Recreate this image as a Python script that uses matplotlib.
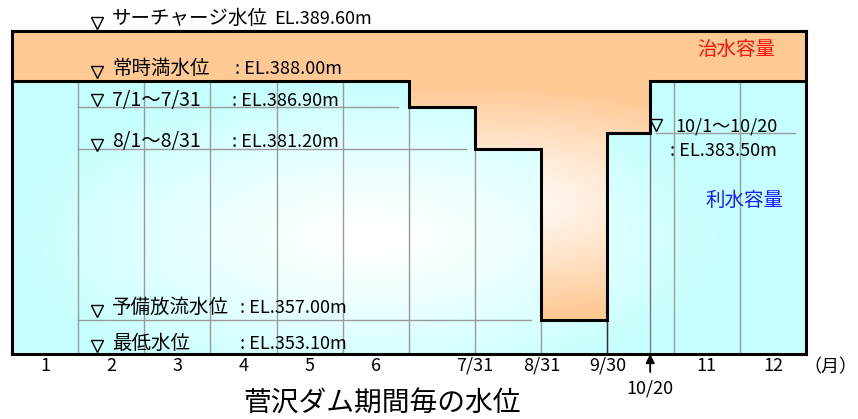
import numpy as np
import matplotlib
matplotlib.use("Agg")
import matplotlib.pyplot as plt
from matplotlib.patches import Polygon
from matplotlib.colors import to_rgb
from matplotlib.transforms import offset_copy

plt.rcParams['font.family'] = ['Noto Sans CJK JP', 'DejaVu Sans']

# water level per period (x in months: 0 = 1/1, 12 = 12/31)
period_start = [0, 6, 7, 8, 9, 9.645]
period_end = [6, 7, 8, 9, 9.645, 12]
period_level = [388.0, 386.9, 381.2, 357.0, 383.5, 388.0]

el_surcharge = 389.6
el_low = 353.1

month_ticks = [0.5, 1.5, 2.5, 3.5, 4.5, 5.5, 7, 8, 9, 10.5, 11.5]
month_labels = ['1', '2', '3', '4', '5', '6', '7/31', '8/31', '9/30', '11', '12']

level_names = ['サーチャージ水位', '常時満水位', '7/1～7/31', '8/1～8/31', '予備放流水位', '最低水位']
level_values = [389.6, 388.0, 386.9, 381.2, 357.0, 353.1]

# the drawing is schematic, not to scale: elevation -> height
scale_el = [353.1, 357.0, 381.2, 383.5, 386.9, 388.0, 389.6]
scale_pos = [0, 34, 205, 221, 247, 273, 323]


def fwd(y):
    return np.interp(y, scale_el, scale_pos)


def inv(p):
    return np.interp(p, scale_pos, scale_el)


def radial(w, h, cx, cy, rx, ry, edge, p=1.3):
    # white in the middle, fading to edge colour
    xx, yy = np.meshgrid(np.linspace(0, 1, w), np.linspace(1, 0, h))
    d = np.sqrt(((xx - cx) / rx) ** 2 + ((yy - cy) / ry) ** 2)
    t = np.clip(d, 0, 1) ** p
    c = np.array(to_rgb(edge))
    return 1 - t[..., None] * (1 - c)


fig = plt.figure(figsize=(8.58, 4.19), dpi=100)
ax = fig.add_axes([12 / 858, 65 / 419, 794 / 858, 323 / 419])
ax.set_yscale('function', functions=(fwd, inv))
ax.set_xlim(0, 12)
ax.set_ylim(el_low, el_surcharge)

# step line of the water level
xs, ys = [], []
for s, e, lv in zip(period_start, period_end, period_level):
    xs += [s, e]
    ys += [lv, lv]

orange = radial(400, 200, 0.59, 0.47, 0.42, 0.36, '#FFC994', p=1.1)
ax.imshow(orange, extent=[0, 1, 0, 1], transform=ax.transAxes, aspect='auto', zorder=0)

cyan = radial(400, 200, 0.45, 0.36, 0.45, 0.48, '#C6FFFF')
poly = Polygon(list(zip(xs, ys)) + [(12, el_low), (0, el_low)], closed=True,
               transform=ax.transData, facecolor='none', edgecolor='none')
img = ax.imshow(cyan, extent=[0, 1, 0, 1], transform=ax.transAxes, aspect='auto', zorder=1)
img.set_clip_path(poly)


def top_at(x):
    return min(lv for s, e, lv in zip(period_start, period_end, period_level) if s <= x <= e)


# grid lines
for m in range(1, 12):
    ax.plot([m, m], [el_low, top_at(m)], color='#9a9a9a', lw=1, zorder=2)
ax.plot([9, 9], [el_low, 357.0], color='#333333', lw=1, zorder=2)
ax.plot([9.645, 9.645], [el_low, 383.5], color='#777777', lw=1, zorder=2)
ax.plot([1, 5.83], [386.9, 386.9], color='#9a9a9a', lw=1, zorder=2)
ax.plot([1, 6.86], [381.2, 381.2], color='#9a9a9a', lw=1, zorder=2)
ax.plot([1, 7.84], [357.0, 357.0], color='#9a9a9a', lw=1, zorder=2)
ax.plot([9.73, 11.84], [383.5, 383.5], color='#9a9a9a', lw=1, zorder=2)

ax.plot(xs, ys, color='black', lw=2.2, zorder=3, solid_joinstyle='miter')

for sp in ax.spines.values():
    sp.set_linewidth(2.2)
    sp.set_zorder(4)

# level labels
text_off = [5.0, 5.0, 0.7, 1.4, 5.0, 3.9]
tri_off = [6, 6.5, 5, 3, 6.5, 6]
colon_x = [None, 3.37, 3.32, 3.32, 3.45, 3.45]
for name, v, to, mo, cx in zip(level_names, level_values, text_off, tri_off, colon_x):
    if cx is None:
        ax.annotate(f'EL.{v:.2f}m', xy=(3.96, v), xytext=(0, to), textcoords='offset points',
                    fontsize=13, va='baseline', ha='left', zorder=5, annotation_clip=False)
    else:
        ax.annotate(f': EL.{v:.2f}m', xy=(cx, v), xytext=(0, to), textcoords='offset points',
                    fontsize=13, va='baseline', ha='left', zorder=5, annotation_clip=False)
    ax.annotate(name, xy=(1.51, v), xytext=(0, to), textcoords='offset points',
                fontsize=14, va='baseline', ha='left', zorder=5, annotation_clip=False)
    tr = offset_copy(ax.transData, fig=fig, x=0, y=mo, units='points')
    ax.plot([1.285], [v], marker='v', ms=8, mfc='none', mec='black', mew=1,
            transform=tr, clip_on=False, zorder=5)

ax.annotate('10/1～10/20', xy=(10.02, 383.5), xytext=(0, 1.2), textcoords='offset points',
            fontsize=13, va='baseline', ha='left', zorder=5)
ax.annotate(': EL.383.50m', xy=(9.94, 383.5), xytext=(0, -16.5), textcoords='offset points',
            fontsize=13, va='baseline', ha='left', zorder=5)
tr = offset_copy(ax.transData, fig=fig, x=0, y=6, units='points')
ax.plot([9.73], [383.5], marker='v', ms=8, mfc='none', mec='black', mew=1,
        transform=tr, zorder=5)

ax.text(0.912, 0.944, '治水容量', color='#FF1010', fontsize=14, ha='center', va='center',
        transform=ax.transAxes, zorder=5)
ax.text(0.923, 0.474, '利水容量', color='#1A1AFF', fontsize=14, ha='center', va='center',
        transform=ax.transAxes, zorder=5)

# x axis
ax.set_xticks(month_ticks, month_labels)
ax.set_yticks([])
ax.tick_params(axis='x', length=0, pad=2, labelsize=13)
fig.text(857 / 858, (419 - 367) / 419, '（月）', fontsize=13, ha='right', va='center')
ax.annotate('', xy=(9.645, 0), xycoords=('data', 'axes fraction'),
            xytext=(0, -13), textcoords='offset points', annotation_clip=False,
            arrowprops=dict(arrowstyle='-|>', color='black', lw=1.3, mutation_scale=13,
                            shrinkA=0, shrinkB=0))
ax.annotate('10/20', xy=(9.645, 0), xycoords=('data', 'axes fraction'),
            xytext=(0, -24.5), textcoords='offset points', fontsize=13,
            ha='center', va='center', annotation_clip=False)

fig.text(382 / 858, 15 / 419, '菅沢ダム期間毎の水位', fontsize=20, ha='center', va='center')

fig.savefig('out.png', dpi=100)
